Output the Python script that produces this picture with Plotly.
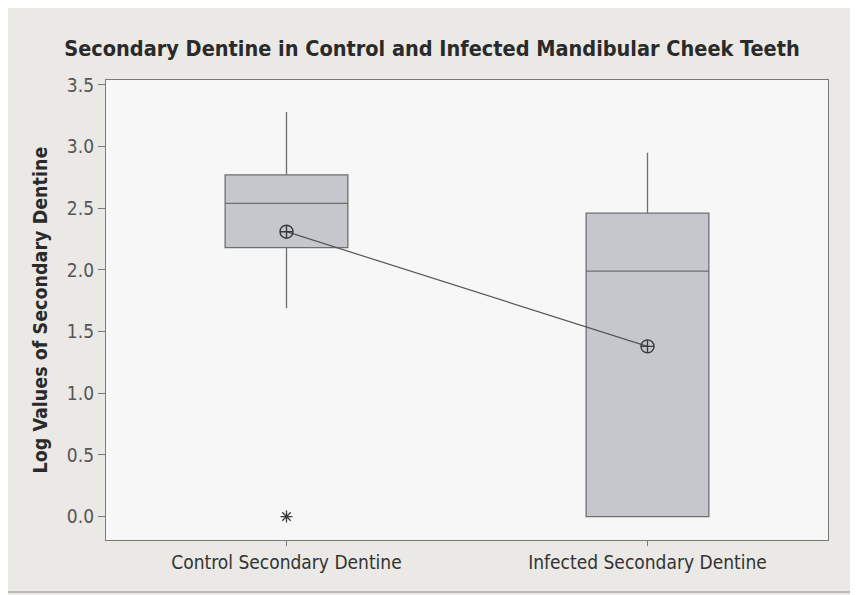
import plotly.graph_objects as go

categories = ["Control Secondary Dentine", "Infected Secondary Dentine"]
q1 = [2.18, 0.0]
median = [2.54, 1.99]
q3 = [2.77, 2.46]
lower_whisker = [1.69, 0.0]
upper_whisker = [3.28, 2.95]
means = [2.31, 1.38]
outlier_cat = ["Control Secondary Dentine"]
outlier_val = [0.0]
y_ticks = [0.0, 0.5, 1.0, 1.5, 2.0, 2.5, 3.0, 3.5]

FONT = "DejaVu Sans Condensed, DejaVu Sans"

fig = go.Figure()
fig.add_trace(go.Box(
    x=categories, q1=q1, median=median, q3=q3,
    lowerfence=lower_whisker, upperfence=upper_whisker,
    width=0.34, whiskerwidth=0,
    fillcolor="#c5c7cc", line=dict(color="#6f6f72", width=1.3),
    boxpoints=False, showlegend=False, hoverinfo="skip",
))
fig.add_trace(go.Scatter(
    x=categories, y=means, mode="lines+markers",
    line=dict(color="#555558", width=1.2),
    marker=dict(symbol="circle-cross-open", size=13, color="#3a3a3c", line=dict(width=1.4)),
    showlegend=False, hoverinfo="skip",
))
fig.add_trace(go.Scatter(
    x=outlier_cat, y=outlier_val, mode="markers",
    marker=dict(symbol="asterisk-open", size=10, color="#3a3a3c", line=dict(width=1.3, color="#3a3a3c")),
    showlegend=False, hoverinfo="skip",
))

W, H = 850, 587
L, T = 98, 72
PW, PH = 722, 460
fig.update_layout(
    width=W, height=H,
    margin=dict(l=L, r=W - L - PW, t=T, b=H - T - PH),
    paper_bgcolor="#eae9e6",
    plot_bgcolor="#f7f7f7",
    title=dict(
        text="<b>Secondary Dentine in Control and Infected Mandibular Cheek Teeth</b>",
        x=(432 - 8) / W, xanchor="center", y=1 - 40 / H, yanchor="middle",
        font=dict(family=FONT, size=21.5, color="#2a2a2a"),
    ),
    font=dict(family=FONT, color="#3a3a3a"),
    shapes=[dict(type="rect", xref="paper", yref="paper",
                 x0=(-3 - L) / PW, x1=(844 - L) / PW, y0=(T + PH - 584) / PH, y1=(T + PH + 3) / PH,
                 line=dict(color="#a9a9a9", width=1.5), fillcolor="rgba(0,0,0,0)", layer="below")],
)
fig.update_xaxes(
    type="category", range=[-0.5, 1.5],
    showline=True, mirror=True, linecolor="#7a7a7a", linewidth=1.3,
    ticks="outside", ticklen=5, tickcolor="#7a7a7a",
    showgrid=False, zeroline=False,
    tickfont=dict(size=19, color="#333333"),
)
fig.update_yaxes(
    range=[-0.19, 3.54], tickvals=y_ticks, ticktext=[f"{v:.1f}" for v in y_ticks],
    showline=True, mirror=True, linecolor="#7a7a7a", linewidth=1.3,
    ticks="outside", ticklen=7, tickcolor="#7a7a7a",
    showgrid=False, zeroline=False,
    tickfont=dict(size=19, color="#555555"),
    title=dict(text="<b>Log Values of Secondary Dentine</b>", font=dict(size=19.5, color="#2a2a2a"), standoff=14),
)

fig.write_html("out.html")
